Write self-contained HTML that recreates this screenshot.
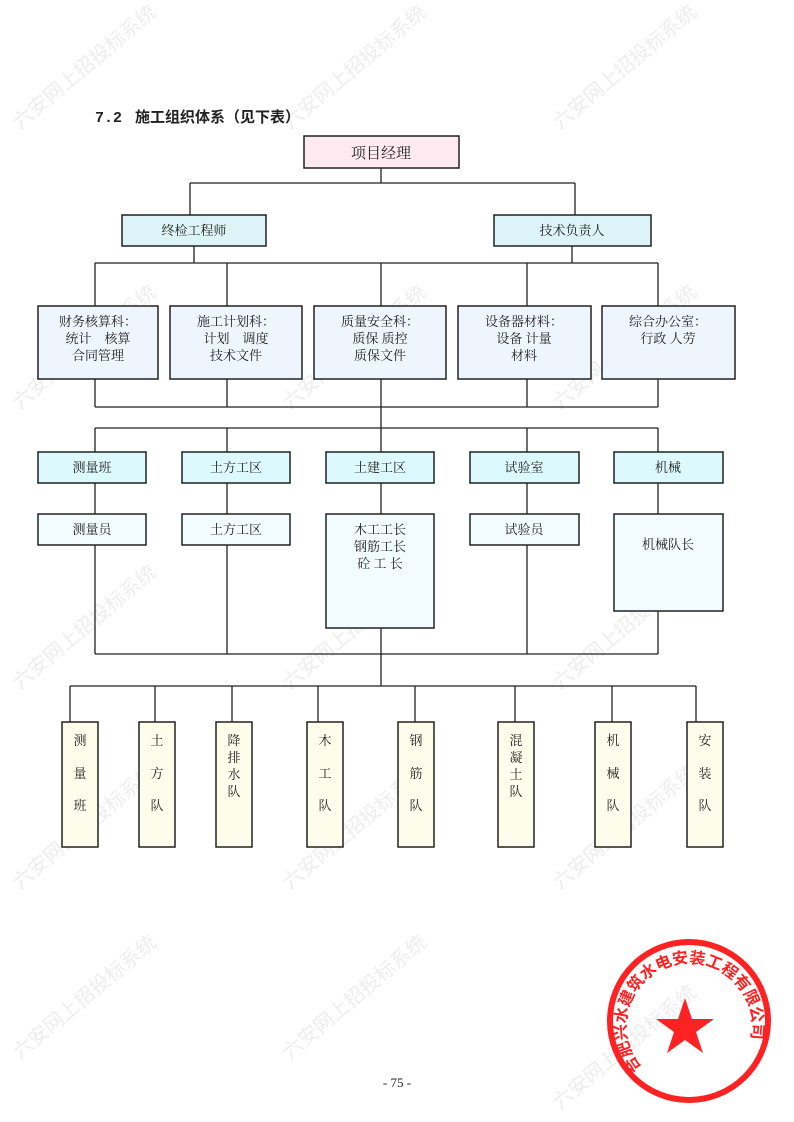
<!DOCTYPE html>
<html><head><meta charset="utf-8"><style>
body{margin:0;background:#fff}
svg{display:block}
text{font-family:"Liberation Serif","Noto Serif CJK SC","Noto Sans CJK SC",serif;fill:#222}
.wm{font-family:"Noto Sans CJK SC",sans-serif;fill:#eeeeee;font-size:20px}
</style></head><body>
<svg width="794" height="1122" viewBox="0 0 794 1122" xmlns="http://www.w3.org/2000/svg">
<g class="wm">
<text transform="translate(20,130) rotate(-40)" class="wm">六安网上招投标系统</text>
<text transform="translate(290,130) rotate(-40)" class="wm">六安网上招投标系统</text>
<text transform="translate(560,130) rotate(-40)" class="wm">六安网上招投标系统</text>
<text transform="translate(20,410) rotate(-40)" class="wm">六安网上招投标系统</text>
<text transform="translate(290,410) rotate(-40)" class="wm">六安网上招投标系统</text>
<text transform="translate(560,410) rotate(-40)" class="wm">六安网上招投标系统</text>
<text transform="translate(20,690) rotate(-40)" class="wm">六安网上招投标系统</text>
<text transform="translate(290,690) rotate(-40)" class="wm">六安网上招投标系统</text>
<text transform="translate(560,690) rotate(-40)" class="wm">六安网上招投标系统</text>
<text transform="translate(20,890) rotate(-40)" class="wm">六安网上招投标系统</text>
<text transform="translate(290,890) rotate(-40)" class="wm">六安网上招投标系统</text>
<text transform="translate(560,890) rotate(-40)" class="wm">六安网上招投标系统</text>
<text transform="translate(20,1060) rotate(-40)" class="wm">六安网上招投标系统</text>
<text transform="translate(290,1060) rotate(-40)" class="wm">六安网上招投标系统</text>
<text transform="translate(560,1110) rotate(-40)" class="wm">六安网上招投标系统</text>
</g>
<text x="95" y="122" font-size="15" font-weight="bold" style="font-family:'Liberation Mono','Noto Sans CJK SC',monospace">7.2</text>
<text x="135" y="122" font-size="15" font-weight="bold" style="font-family:'Noto Sans CJK SC',sans-serif">施工组织体系（见下表）</text>
<g stroke="#222" stroke-width="1.3" fill="none">
<path d="M381 168V183M190 183H575M190 183V215M575 183V215"/>
<path d="M194 246V263M572 246V263M95 263H658M95 263V306M227 263V306M381 263V306M527 263V306M658 263V306"/>
<path d="M95 379V407M227 379V407M381 379V407M527 379V407M658 379V407M95 407H658M381 407V428M95 428H658M95 428V452M227 428V452M381 428V452M527 428V452M658 428V452"/>
<path d="M95 483V514M227 483V514M381 483V514M527 483V514M658 483V514"/>
<path d="M95 545V654M227 545V654M381 628V654M527 545V654M658 611V654M95 654H658M381 654V686M70 686H696"/>
<path d="M70 686V722M155 686V722M232 686V722M318 686V722M415 686V722M515 686V722M612 686V722M696 686V722"/>
</g>
<g stroke="#222" stroke-width="1.5">
<rect x="304" y="136" width="155" height="32" fill="#fdeaf1"/>
<rect x="122" y="215" width="144" height="31" fill="#dcf4f8"/>
<rect x="494" y="215" width="157" height="31" fill="#dcf4f8"/>
<rect x="38" y="306" width="120" height="73" fill="#eef5fd"/>
<rect x="170" y="306" width="132" height="73" fill="#eef5fd"/>
<rect x="314" y="306" width="132" height="73" fill="#eef5fd"/>
<rect x="458" y="306" width="133" height="73" fill="#eef5fd"/>
<rect x="602" y="306" width="133" height="73" fill="#eef5fd"/>
<rect x="38" y="452" width="108" height="31" fill="#dcfafd"/>
<rect x="182" y="452" width="108" height="31" fill="#dcfafd"/>
<rect x="326" y="452" width="108" height="31" fill="#dcfafd"/>
<rect x="470" y="452" width="109" height="31" fill="#dcfafd"/>
<rect x="614" y="452" width="109" height="31" fill="#dcfafd"/>
<rect x="38" y="514" width="108" height="31" fill="#f2fcfe"/>
<rect x="182" y="514" width="108" height="31" fill="#f2fcfe"/>
<rect x="326" y="514" width="108" height="114" fill="#f2fcfe"/>
<rect x="470" y="514" width="109" height="31" fill="#f2fcfe"/>
<rect x="614" y="514" width="109" height="97" fill="#f2fcfe"/>
<g fill="#fdfdeb">
<rect x="62" y="722" width="36" height="125"/>
<rect x="139" y="722" width="36" height="125"/>
<rect x="216" y="722" width="36" height="125"/>
<rect x="307" y="722" width="36" height="125"/>
<rect x="398" y="722" width="36" height="125"/>
<rect x="498" y="722" width="36" height="125"/>
<rect x="595" y="722" width="36" height="125"/>
<rect x="687" y="722" width="36" height="125"/>
</g>
</g>
<g font-size="13" text-anchor="middle">
<text x="381" y="158" font-size="15">项目经理</text>
<text x="194" y="235">终检工程师</text>
<text x="572" y="235">技术负责人</text>
<text x="98" y="326">财务核算科：</text><text x="98" y="343">统计　核算</text><text x="98" y="360">合同管理</text>
<text x="236" y="326">施工计划科：</text><text x="236" y="343">计划　调度</text><text x="236" y="360">技术文件</text>
<text x="380" y="326">质量安全科：</text><text x="380" y="343">质保 质控</text><text x="380" y="360">质保文件</text>
<text x="524" y="326">设备器材料：</text><text x="524" y="343">设备 计量</text><text x="524" y="360">材料</text>
<text x="668" y="326">综合办公室：</text><text x="668" y="343">行政 人劳</text>
<text x="92" y="472">测量班</text><text x="236" y="472">土方工区</text><text x="380" y="472">土建工区</text><text x="524" y="472">试验室</text><text x="668" y="472">机械</text>
<text x="92" y="534">测量员</text><text x="236" y="534">土方工区</text>
<text x="380" y="534">木工工长</text><text x="380" y="551">钢筋工长</text><text x="380" y="568">砼 工 长</text>
<text x="524" y="534">试验员</text><text x="668" y="549">机械队长</text>
<text x="80" y="745">测</text><text x="80" y="778">量</text><text x="80" y="810">班</text>
<text x="157" y="745">土</text><text x="157" y="778">方</text><text x="157" y="810">队</text>
<text x="234" y="745">降</text><text x="234" y="762">排</text><text x="234" y="779">水</text><text x="234" y="796">队</text>
<text x="325" y="745">木</text><text x="325" y="778">工</text><text x="325" y="810">队</text>
<text x="416" y="745">钢</text><text x="416" y="778">筋</text><text x="416" y="810">队</text>
<text x="516" y="745">混</text><text x="516" y="762">凝</text><text x="516" y="779">土</text><text x="516" y="796">队</text>
<text x="613" y="745">机</text><text x="613" y="778">械</text><text x="613" y="810">队</text>
<text x="705" y="745">安</text><text x="705" y="778">装</text><text x="705" y="810">队</text>
<text x="397" y="1087" font-size="13">- 75 -</text>
</g>
<g>
<circle cx="689" cy="1021" r="79" fill="none" stroke="#f22" stroke-width="6"/>
<polygon points="685,998 692,1019 714,1019 696,1032 703,1053 685,1040 667,1053 674,1032 656,1019 678,1019" fill="#f22"/>
<path id="arc" d="M642 1068 A63 63 0 1 1 738 1066" fill="none"/>
<text font-size="16" font-weight="bold" style="fill:#f22;font-family:'Noto Sans CJK SC',sans-serif"><textPath href="#arc">合肥兴水建筑水电安装工程有限公司</textPath></text>
</g>
</svg>
</body></html>
